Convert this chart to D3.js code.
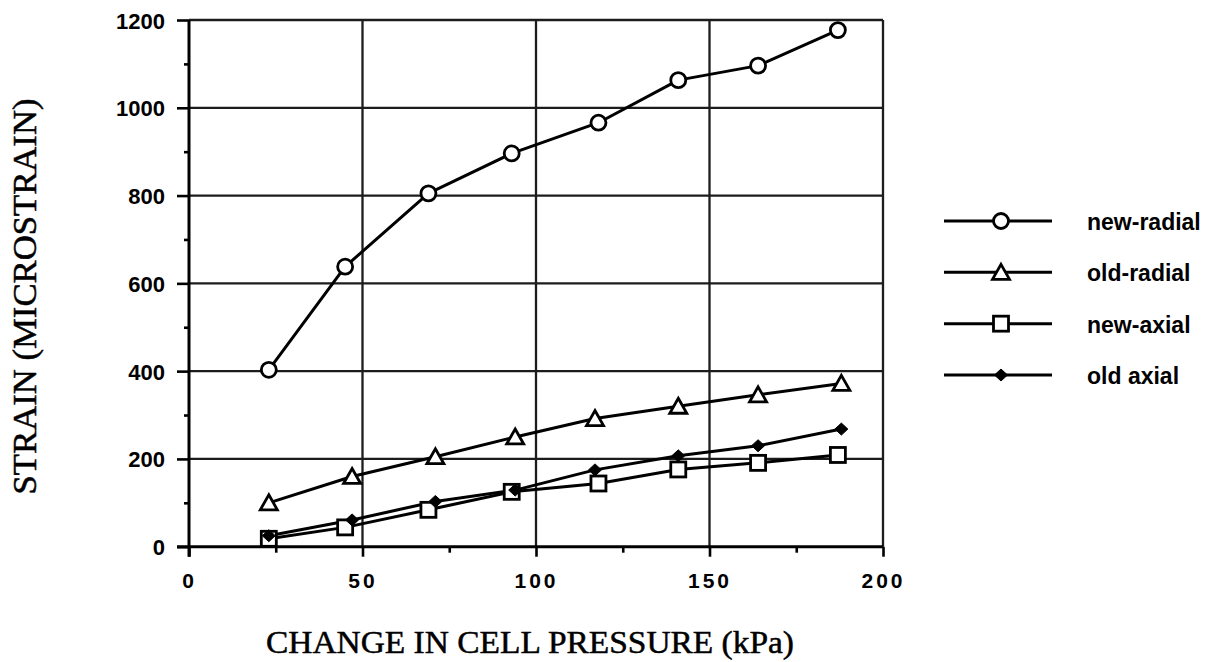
<!DOCTYPE html>
<html>
<head>
<meta charset="utf-8">
<script src="https://cdn.jsdelivr.net/npm/d3@7"></script>
<style>
  html, body { margin: 0; padding: 0; background: #fff; }
  svg { display: block; }
</style>
</head>
<body>
<svg id="chart" width="1218" height="662"></svg>
<script>
// Cell pressure steps (kPa) for the new and old gauges
const pressureNew = [23, 45, 69, 93, 118, 141, 164, 187];
const pressureOld = [23, 47, 71, 94, 117, 141, 164, 188];

// Measured strain (microstrain)
const newRadial = [403, 638, 805, 896, 966, 1063, 1096, 1177];
const oldRadial = [100, 160, 205, 250, 292, 320, 346, 372];
const newAxial  = [18, 44, 84, 125, 144, 176, 191, 209];
const oldAxial  = [25, 61, 103, 129, 175, 207, 230, 268];

const seriesNames = ["new-radial", "old-radial", "new-axial", "old axial"];
const seriesMarkers = ["circle", "triangle", "square", "diamond"];

const xMajorTicks = [0, 50, 100, 150, 200];
const xMinorTicks = [25, 75, 125, 175];
const yMajorTicks = [0, 200, 400, 600, 800, 1000, 1200];
const yMinorTicks = [100, 300, 500, 700, 900, 1100];

const xTitle = "CHANGE IN CELL PRESSURE (kPa)";
const yTitle = "STRAIN (MICROSTRAIN)";

const svg = d3.select("#chart");
const plot = { left: 189, top: 20, right: 883, bottom: 546.7 };

const x = d3.scaleLinear().domain([0, 200]).range([plot.left, plot.right]);
const y = d3.scaleLinear().domain([0, 1200]).range([plot.bottom, plot.top]);

const series = [
  { name: seriesNames[0], marker: seriesMarkers[0], xs: pressureNew, ys: newRadial },
  { name: seriesNames[1], marker: seriesMarkers[1], xs: pressureOld, ys: oldRadial },
  { name: seriesNames[2], marker: seriesMarkers[2], xs: pressureNew, ys: newAxial },
  { name: seriesNames[3], marker: seriesMarkers[3], xs: pressureOld, ys: oldAxial }
];

// Grid lines
const grid = svg.append("g").attr("stroke", "#1c1c1c").attr("stroke-width", 2.3);
grid.selectAll(".hg").data(yMajorTicks.slice(1)).join("line")
  .attr("x1", plot.left).attr("x2", plot.right)
  .attr("y1", d => y(d)).attr("y2", d => y(d));
grid.selectAll(".vg").data(xMajorTicks.slice(1)).join("line")
  .attr("x1", d => x(d)).attr("x2", d => x(d))
  .attr("y1", plot.top).attr("y2", plot.bottom);

// Axes
const xAxis = d3.axisBottom(x).tickValues(xMajorTicks).tickSize(10).tickFormat(d3.format("d"));
const xAxisMinor = d3.axisBottom(x).tickValues(xMinorTicks).tickSize(6).tickFormat("");
const yAxis = d3.axisLeft(y).tickValues(yMajorTicks).tickSize(12).tickFormat(d3.format("d"));
const yAxisMinor = d3.axisLeft(y).tickValues(yMinorTicks).tickSize(5).tickFormat("");

function styleAxis(g) {
  g.select(".domain").remove();
  g.selectAll(".tick line").attr("stroke", "#000").attr("stroke-width", 2.6);
}

const gx = svg.append("g").attr("transform", `translate(0,${plot.bottom})`).call(xAxis).call(styleAxis);
gx.selectAll(".tick text")
  .attr("y", 0).attr("dy", 0)
  .attr("transform", "translate(0,41)")
  .attr("font-family", "'Liberation Sans', Arial, sans-serif")
  .attr("font-weight", "bold")
  .attr("font-size", 21)
  .attr("letter-spacing", 3)
  .attr("fill", "#000");
svg.append("g").attr("transform", `translate(0,${plot.bottom})`).call(xAxisMinor).call(styleAxis);

const gy = svg.append("g").attr("transform", `translate(${plot.left},0)`).call(yAxis).call(styleAxis);
gy.selectAll(".tick text")
  .attr("x", -24).attr("dy", 0)
  .attr("transform", "translate(0,8)")
  .attr("font-family", "'Liberation Sans', Arial, sans-serif")
  .attr("font-weight", "bold")
  .attr("font-size", 22)
  .attr("fill", "#000");
svg.append("g").attr("transform", `translate(${plot.left},0)`).call(yAxisMinor).call(styleAxis);

// Axis lines (left and bottom solid)
svg.append("line")
  .attr("x1", x(0) - 12).attr("x2", plot.right)
  .attr("y1", y(0)).attr("y2", y(0))
  .attr("stroke", "#000").attr("stroke-width", 3);
svg.append("line")
  .attr("x1", x(0)).attr("x2", x(0))
  .attr("y1", plot.top).attr("y2", plot.bottom + 10)
  .attr("stroke", "#000").attr("stroke-width", 3);

// Series lines
const line = d3.line().x(d => x(d[0])).y(d => y(d[1]));
svg.append("g").selectAll("path").data(series).join("path")
  .attr("d", s => line(s.xs.map((v, i) => [v, s.ys[i]])))
  .attr("fill", "none")
  .attr("stroke", "#000")
  .attr("stroke-width", 3)
  .attr("stroke-linejoin", "round");

// Marker shapes
function drawMarker(g, type) {
  if (type === "circle") {
    g.append("circle").attr("r", 7.5)
      .attr("fill", "#fff").attr("stroke", "#000").attr("stroke-width", 2.8);
  } else if (type === "triangle") {
    g.append("path").attr("d", "M0,-8 L8.5,7 L-8.5,7 Z")
      .attr("fill", "#fff").attr("stroke", "#000").attr("stroke-width", 2.8)
      .attr("stroke-linejoin", "miter");
  } else if (type === "square") {
    g.append("rect").attr("x", -7.5).attr("y", -7.5).attr("width", 15).attr("height", 15)
      .attr("fill", "#fff").attr("stroke", "#000").attr("stroke-width", 2.8);
  } else {
    g.append("path").attr("d", "M0,-6 L6.5,0 L0,6 L-6.5,0 Z")
      .attr("fill", "#000").attr("stroke", "#000").attr("stroke-width", 1);
  }
}

series.forEach(s => {
  const pts = s.xs.map((v, i) => [v, s.ys[i]]);
  svg.append("g").selectAll("g").data(pts).join("g")
    .attr("transform", d => `translate(${x(d[0])},${y(d[1])})`)
    .each(function () { drawMarker(d3.select(this), s.marker); });
});

// Legend
const legendRows = d3.scalePoint().domain(seriesNames).range([221, 375]);
const legend = svg.append("g");
series.forEach(s => {
  const ly = legendRows(s.name);
  legend.append("line")
    .attr("x1", 944).attr("x2", 1052).attr("y1", ly).attr("y2", ly)
    .attr("stroke", "#000").attr("stroke-width", 3);
  const m = legend.append("g").attr("transform", `translate(1001,${ly})`);
  drawMarker(m, s.marker);
  legend.append("text")
    .attr("x", 1087).attr("y", ly + 9)
    .attr("font-family", "'Liberation Sans', Arial, sans-serif")
    .attr("font-weight", "bold")
    .attr("font-size", 23)
    .attr("fill", "#000")
    .text(s.name);
});

// Axis titles
svg.append("text")
  .attr("x", 530).attr("y", 653)
  .attr("text-anchor", "middle")
  .attr("font-family", "'Liberation Serif', 'Times New Roman', serif")
  .attr("font-size", 32)
  .attr("textLength", 528)
  .attr("lengthAdjust", "spacingAndGlyphs")
  .attr("fill", "#000")
  .attr("stroke", "#000")
  .attr("stroke-width", 0.5)
  .text(xTitle);

svg.append("text")
  .attr("transform", "translate(36,296.5) rotate(-90)")
  .attr("text-anchor", "middle")
  .attr("font-family", "'Liberation Serif', 'Times New Roman', serif")
  .attr("font-size", 33)
  .attr("textLength", 396)
  .attr("lengthAdjust", "spacingAndGlyphs")
  .attr("fill", "#000")
  .attr("stroke", "#000")
  .attr("stroke-width", 0.5)
  .text(yTitle);
</script>
</body>
</html>
